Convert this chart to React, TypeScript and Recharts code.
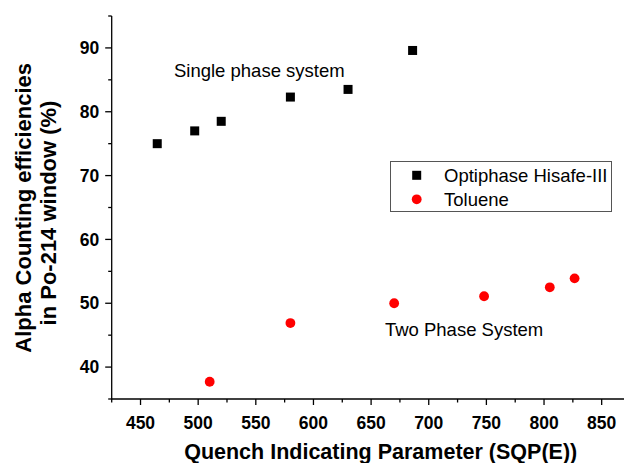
import React from 'react'
import { ScatterChart, Scatter, XAxis, YAxis, Legend, ReferenceDot } from 'recharts'

// SQP(E) quench values and Po-214 alpha counting efficiencies (%)
const optiphaseSqp = [464.5, 497, 520, 580, 630, 686]
const optiphaseEff = [75.0, 77.0, 78.5, 82.3, 83.5, 89.6]
const tolueneSqp = [510, 580, 670, 748, 805, 826.5]
const tolueneEff = [37.7, 46.9, 50.0, 51.1, 52.5, 53.9]

const xTicks = [425, 450, 475, 500, 525, 550, 575, 600, 625, 650, 675, 700, 725, 750, 775, 800, 825, 850, 875]
const yTicks = [35, 40, 45, 50, 55, 60, 65, 70, 75, 80, 85, 90, 95]

const annotations = [
  { x: 479, y: 86.5, text: 'Single phase system' },
  { x: 662, y: 45.9, text: 'Two Phase System' },
]

const optiphaseData = optiphaseSqp.map((sqp, i) => ({ sqp, eff: optiphaseEff[i] }))
const tolueneData = tolueneSqp.map((sqp, i) => ({ sqp, eff: tolueneEff[i] }))

const FONT = '"Liberation Sans", Arial, sans-serif'

const SquareDot = (props: any) => (
  <rect x={props.cx - 4.5} y={props.cy - 4.5} width={9} height={9} fill="#000" />
)

const RoundDot = (props: any) => <circle cx={props.cx} cy={props.cy} r={4.9} fill="#ff0000" />

function XTick({ x, y, payload }: any) {
  const major = payload.value % 50 === 0
  return (
    <g>
      <line x1={x} x2={x} y1={y} y2={y + (major ? 6 : 3.5)} stroke="#000" strokeWidth={1.3} />
      {major && (
        <text x={x} y={y + 30.3} textAnchor="middle" fontFamily={FONT} fontWeight="bold" fontSize={17.5} fill="#000">
          {payload.value}
        </text>
      )}
    </g>
  )
}

function YTick({ x, y, payload }: any) {
  const major = payload.value % 10 === 0
  return (
    <g>
      <line x1={x} x2={x - (major ? 6.5 : 3.5)} y1={y} y2={y} stroke="#000" strokeWidth={1.3} />
      {major && (
        <text x={x - 12.4} y={y + 6.2} textAnchor="end" fontFamily={FONT} fontWeight="bold" fontSize={17.5} fill="#000">
          {payload.value}
        </text>
      )}
    </g>
  )
}

function LegendBox({ payload }: any) {
  const shapes = ['square', 'circle']
  return (
    <svg width={222} height={51} style={{ display: 'block' }}>
      <rect x={0.5} y={0.5} width={221} height={50} fill="#fff" stroke="#555" strokeWidth={1} />
      {(payload || []).map((entry: any, i: number) => {
        const cy = 14.3 + i * 24
        return (
          <g key={entry.value}>
            {shapes[i] === 'square' ? (
              <rect x={26.7 - 4.5} y={cy - 4.5} width={9} height={9} fill="#000" />
            ) : (
              <circle cx={26.7} cy={cy} r={4.9} fill="#ff0000" />
            )}
            <text x={54} y={cy + 6.6} fontFamily={FONT} fontSize={18.5} fill="#000">
              {entry.value}
            </text>
          </g>
        )
      })}
    </svg>
  )
}

const AnnotationText = (text: string) => (props: any) => {
  const { viewBox } = props
  return (
    <text x={viewBox.x} y={viewBox.y + viewBox.height / 2 + 6.6} fontFamily={FONT} fontSize={18.5} fill="#000">
      {text}
    </text>
  )
}

export default function App() {
  return (
    <div style={{ position: 'absolute', left: 0, top: 0, width: 624, height: 463, overflow: 'hidden', background: '#fff' }}>
      <ScatterChart width={640} height={463} margin={{ top: 16, right: 9.5, bottom: 0, left: 0 }}>
        <XAxis
          type="number"
          dataKey="sqp"
          domain={[425, 875]}
          ticks={xTicks}
          interval={0}
          tick={<XTick />}
          tickLine={false}
          tickSize={0}
          tickMargin={0}
          height={64}
          axisLine={{ stroke: '#000', strokeWidth: 1.3 }}
        />
        <YAxis
          type="number"
          dataKey="eff"
          domain={[35, 95]}
          ticks={yTicks}
          interval={0}
          tick={<YTick />}
          tickLine={false}
          tickSize={0}
          tickMargin={0}
          width={111.7}
          axisLine={{ stroke: '#000', strokeWidth: 1.3 }}
        />
        <Legend
          layout="vertical"
          align="center"
          verticalAlign="middle"
          width={222}
          height={51}
          wrapperStyle={{ left: 390, top: 160.5 }}
          content={<LegendBox />}
        />
        {annotations.map((a) => (
          <ReferenceDot key={a.text} x={a.x} y={a.y} r={0} stroke="none" fill="none" label={AnnotationText(a.text)} />
        ))}
        <Scatter name="Optiphase Hisafe-III" data={optiphaseData} fill="#000" shape={SquareDot} isAnimationActive={false} />
        <Scatter name="Toluene" data={tolueneData} fill="#ff0000" shape={RoundDot} isAnimationActive={false} />
      </ScatterChart>
      <svg width={624} height={463} style={{ position: 'absolute', left: 0, top: 0, pointerEvents: 'none' }}>
        <g fontFamily={FONT} fontWeight="bold" fontSize={22} fill="#000" textAnchor="middle">
          <text transform="translate(30.7,207.8) rotate(-90)">Alpha Counting efficiencies</text>
          <text transform="translate(56,213) rotate(-90)">in Po-214 window (%)</text>
        </g>
        <text x={380.7} y={459} textAnchor="middle" fontFamily={FONT} fontWeight="bold" fontSize={21.5} fill="#000">
          Quench Indicating Parameter (SQP(E))
        </text>
      </svg>
    </div>
  )
}
